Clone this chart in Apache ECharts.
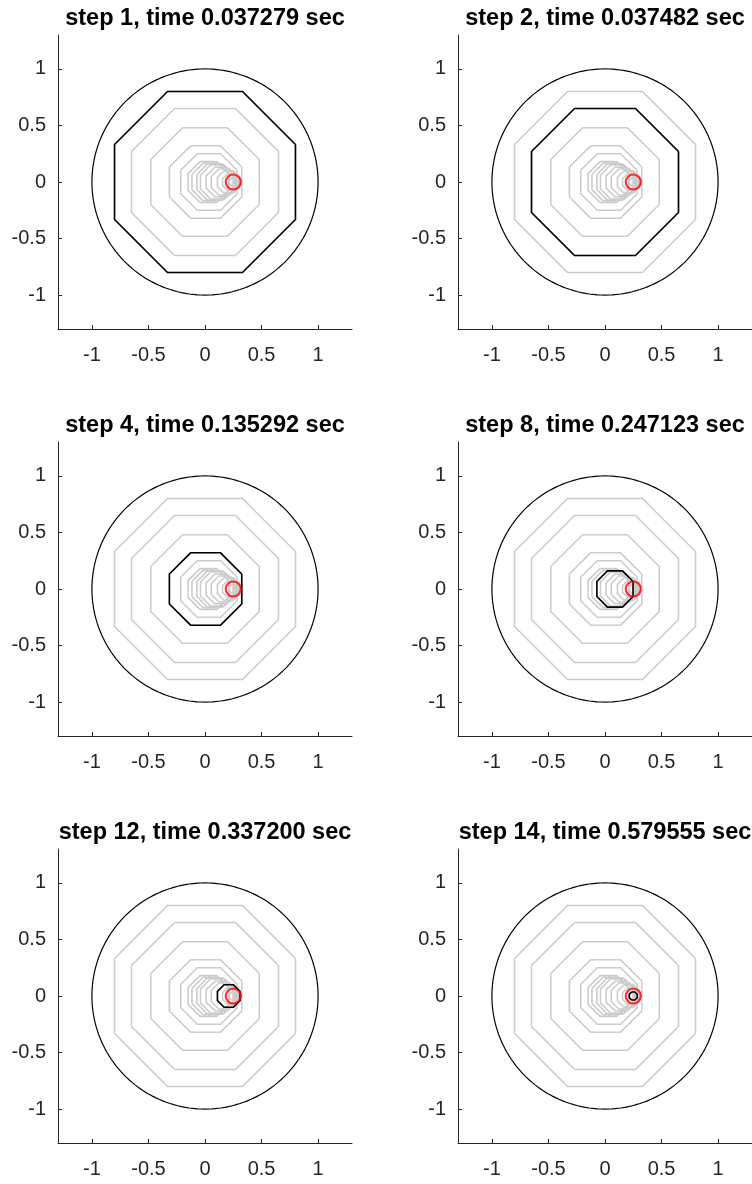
<!DOCTYPE html>
<html>
<head>
<meta charset="utf-8">
<script src="https://cdn.jsdelivr.net/npm/echarts@6/dist/echarts.min.js"></script>
<style>
  html, body { margin: 0; padding: 0; background: #fff; }
  #main { width: 752px; height: 1184px; }
</style>
</head>
<body>
<div id="main"></div>
<script>
// panels shown (step number + elapsed time)
const stepNums = [1, 2, 4, 8, 12, 14]
const stepTimes = ['0.037279', '0.037482', '0.135292', '0.247123', '0.337200', '0.579555']

// one octagon per step: x of its centre and its apothem (centre y is 0)
const octCenterX = [0, 0, 0, 0.005, 0.035, 0.03, 0.05, 0.088, 0.11, 0.14, 0.17, 0.21, 0.225, 0.25]
const octApothem = [0.8, 0.65, 0.48, 0.32, 0.25, 0.18, 0.165, 0.16, 0.15, 0.13, 0.115, 0.1, 0.07, 0.035]

// target point (red marker)
const targetX = [0.25]
const targetY = [0]

const tickValues = [-1, -0.5, 0, 0.5, 1]
const axisLimit = 1.3

const gridLefts = [58, 458]
const gridTops = [35, 442, 849]
const gridSize = 294

const octagon = (cx, a) => {
  const r = a / Math.cos(Math.PI / 8)
  const pts = []
  for (let k = 0; k <= 8; k++) {
    const t = Math.PI / 8 + k * Math.PI / 4
    pts.push([cx + r * Math.cos(t), r * Math.sin(t)])
  }
  return pts
}

const unitCircle = () => {
  const pts = []
  for (let k = 0; k <= 180; k++) {
    const t = k / 180 * 2 * Math.PI
    pts.push([Math.cos(t), Math.sin(t)])
  }
  return pts
}

const grid = []
const xAxis = []
const yAxis = []
const title = []
const series = []

const axisCommon = {
  type: 'value',
  min: -axisLimit,
  max: axisLimit,
  axisLine: { show: true, onZero: false, lineStyle: { color: '#262626', width: 1 } },
  axisTick: { show: true, inside: true, length: 4, customValues: tickValues, lineStyle: { color: '#262626' } },
  splitLine: { show: false }
}

stepNums.forEach((step, i) => {
  const left = gridLefts[i % 2]
  const top = gridTops[Math.floor(i / 2)]
  grid.push({ left: left, top: top, width: gridSize, height: gridSize, containLabel: false })
  xAxis.push({
    ...axisCommon,
    gridIndex: i,
    axisLabel: { customValues: tickValues, margin: 16, color: '#262626', fontSize: 20, fontFamily: 'Liberation Sans' }
  })
  yAxis.push({
    ...axisCommon,
    gridIndex: i,
    axisLabel: { customValues: tickValues, margin: 12, color: '#262626', fontSize: 20, fontFamily: 'Liberation Sans' }
  })
  title.push({
    text: 'step ' + step + ', time ' + stepTimes[i] + ' sec',
    left: left + gridSize / 2,
    top: top - 28,
    padding: 0,
    textAlign: 'center',
    textStyle: { fontSize: 23.5, fontWeight: 'bold', color: '#000', fontFamily: 'Liberation Sans' }
  })

  octCenterX.forEach((cx, j) => {
    series.push({
      type: 'line',
      xAxisIndex: i,
      yAxisIndex: i,
      showSymbol: false,
      silent: true,
      z: 2,
      lineStyle: { color: '#cccccc', width: 1.6 },
      data: octagon(cx, octApothem[j])
    })
  })
  const cur = step - 1
  series.push({
    type: 'line',
    xAxisIndex: i,
    yAxisIndex: i,
    showSymbol: false,
    silent: true,
    z: 3,
    lineStyle: { color: '#000', width: 1.6 },
    data: octagon(octCenterX[cur], octApothem[cur])
  })
  series.push({
    type: 'line',
    xAxisIndex: i,
    yAxisIndex: i,
    showSymbol: false,
    silent: true,
    z: 3,
    lineStyle: { color: '#000', width: 1.2 },
    data: unitCircle()
  })
  series.push({
    type: 'scatter',
    xAxisIndex: i,
    yAxisIndex: i,
    z: 4,
    symbol: 'circle',
    symbolSize: 15,
    itemStyle: { color: 'rgba(0,0,0,0)', borderColor: '#ff0000', borderWidth: 2.2 },
    data: targetX.map((x, k) => [x, targetY[k]])
  })
})

const chart = echarts.init(document.getElementById('main'))
chart.setOption({
  animation: false,
  backgroundColor: '#fff',
  title: title,
  grid: grid,
  xAxis: xAxis,
  yAxis: yAxis,
  series: series
})
</script>
</body>
</html>
